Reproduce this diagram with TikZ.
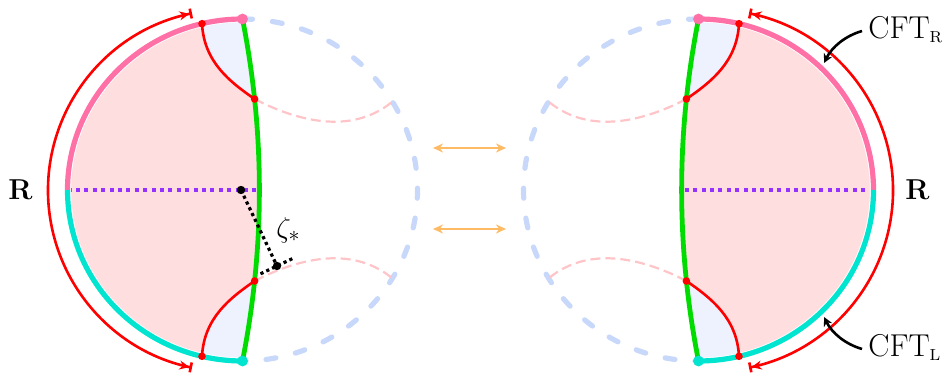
\documentclass[tikz,border=0pt]{standalone}
\usetikzlibrary{arrows.meta}
\definecolor{pinkfill}{RGB}{255,222,224}
\definecolor{bluefill}{RGB}{237,242,254}
\definecolor{pinkarc}{RGB}{255,112,166}
\definecolor{cyanarc}{RGB}{0,228,208}
\definecolor{greenline}{RGB}{0,220,0}
\definecolor{dashblue}{RGB}{200,216,250}
\definecolor{pinkdash}{RGB}{255,196,200}
\definecolor{purpledot}{RGB}{150,50,255}
\definecolor{orangearrow}{RGB}{255,186,100}
\tikzset{
  bdryarc/.style={line width=2.6pt},
  redgeo/.style={red, line width=1.3pt},
  outerarc/.style={red, line width=1.3pt,
    {Bar[width=5pt]Stealth[length=5pt,width=4.5pt]}-{Stealth[length=5pt,width=4.5pt]Bar[width=5pt]}},
  dashcircle/.style={dashblue, line width=2.6pt, line cap=round, dash pattern=on 5pt off 10pt},
  pinkdashed/.style={pinkdash, line width=1.1pt, dash pattern=on 5pt off 2.5pt},
  purpledotted/.style={purpledot, line width=1.9pt, dash pattern=on 2pt off 2.2pt},
  blackdotted/.style={black, line width=1.6pt, dash pattern=on 1.6pt off 1.6pt},
  orangearr/.style={orangearrow, line width=1.4pt,
    {Stealth[length=5pt,width=4.5pt]}-{Stealth[length=5pt,width=4.5pt]}},
  cftarrow/.style={black, line width=1.3pt, -{Stealth[length=4.5pt,width=4.5pt]}},
  lbl/.style={font=\fontsize{15.8}{19}\selectfont, inner sep=0pt, anchor=base west},
}
\newcommand{\halfdisk}{%
  \begin{scope}
    \clip (242.5,19) arc[start angle=-90, end angle=-270, x radius=175, y radius=171]
      .. controls (265,247) and (265,133) .. (242.5,19) -- cycle;
    \fill[bluefill] (0,0) rectangle (300,373);
    \fill[pinkfill] (202,23.7) .. controls (204,62) and (230,82) .. (254.6,99)
      -- (330,99) -- (330,281) -- (254.6,281)
      .. controls (230,298) and (204,318) .. (202,356.3)
      -- (202,400) -- (0,400) -- (0,-20) -- (202,-20) -- cycle;
  \end{scope}
  \draw[dashcircle] (242.5,19) arc[start angle=-90, end angle=90, x radius=175, y radius=171];
  \draw[pinkdashed] (254.6,99) .. controls (295,120) and (350,136) .. (392,102);
  \draw[pinkdashed] (254.6,281) .. controls (295,260) and (350,244) .. (392,278);
  \draw[purpledotted] (67.5,190) -- (259.4,190);
  \draw[greenline, line width=2.4pt] (242.5,19) .. controls (265,133) and (265,247) .. (242.5,361);
  \draw[white, line width=0.6pt] (242.5,21.8) arc[start angle=-90, end angle=-270, x radius=172, y radius=168.2];
  \draw[bdryarc, pinkarc] (242.5,19) arc[start angle=-90, end angle=-180, x radius=175, y radius=171];
  \draw[bdryarc, cyanarc] (67.5,190) arc[start angle=180, end angle=90, x radius=175, y radius=171];
  \draw[redgeo] (202,23.7) .. controls (204,62) and (230,82) .. (254.6,99);
  \draw[redgeo] (202,356.3) .. controls (204,318) and (230,298) .. (254.6,281);
  \fill[red] (202,23.7) circle[radius=3.8];
  \fill[red] (254.6,99) circle[radius=3.8];
  \fill[red] (254.6,281) circle[radius=3.8];
  \fill[red] (202,356.3) circle[radius=3.8];
  \fill[pinkarc] (242.5,19) circle[radius=5.4];
  \fill[cyanarc] (242.5,361) circle[radius=5.4];
  \draw[outerarc] (192,13.3) arc[start angle=-101.8, end angle=-258.2, radius=181];
}
\begin{document}
\begin{tikzpicture}[x=0.5pt, y=-0.5pt]
  \useasboundingbox (0,0) rectangle (951,373);
  % left half-disk
  \halfdisk
  % right half-disk (mirror image)
  \begin{scope}[xshift=470.5pt, xscale=-1]
    \halfdisk
  \end{scope}
  % geodesic distance zeta_*
  \coordinate (zc) at (241,190);
  \coordinate (zp) at (277,266);
  \coordinate (zl) at (260.5,273.8);
  \coordinate (zr) at (295,257.4);
  \draw[blackdotted] (zc) -- (zp);
  \draw[blackdotted] (zl) -- (zr);
  \fill (zc) circle[radius=4.2];
  \fill (zp) circle[radius=4.2];
  \node[lbl] (zeta) at (276,237.5) {$\zeta_*$};
  % R labels
  \node[lbl] (Rleft) at (8,200) {$\mathbf{R}$};
  \node[lbl] (Rright) at (905,200) {$\mathbf{R}$};
  % CFT labels
  \node[lbl] (cftR) at (868,38.5) {CFT$_{\scriptscriptstyle\mathrm{R}}$};
  \node[lbl] (cftL) at (868,356) {CFT$_{\scriptscriptstyle\mathrm{L}}$};
  \coordinate (aR) at (862,31);
  \coordinate (tR) at (824,63);
  \coordinate (aL) at (862,349);
  \coordinate (tL) at (824,317);
  \draw[cftarrow] (aR) .. controls (845,36) and (832,47) .. (tR);
  \draw[cftarrow] (aL) .. controls (845,344) and (832,333) .. (tL);
  % orange identification arrows
  \coordinate (o1a) at (433,148);
  \coordinate (o1b) at (506,148);
  \coordinate (o2a) at (433,229);
  \coordinate (o2b) at (506,229);
  \draw[orangearr] (o1a) -- (o1b);
  \draw[orangearr] (o2a) -- (o2b);
\end{tikzpicture}
\end{document}
